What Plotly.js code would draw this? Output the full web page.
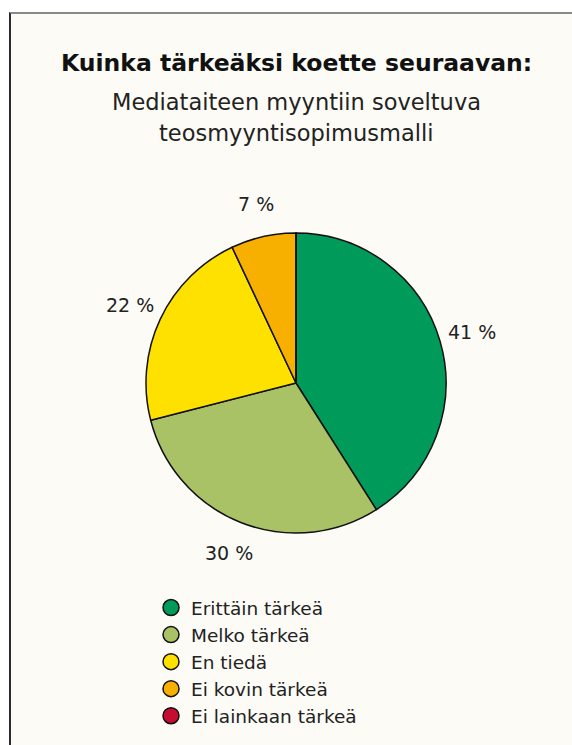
<!DOCTYPE html>
<html>
<head>
<meta charset="utf-8">
<script src="https://cdn.plot.ly/plotly-3.0.1.min.js"></script>
<style>
  html, body { margin:0; padding:0; background:#ffffff; }
  #frame { position:absolute; left:9px; top:12px; width:563px; height:733px; background:#fcfbf6;
           border-top:2px solid #8a8a8a; border-left:2px solid #2a2a2a; box-sizing:border-box; }
  #chart { position:absolute; left:0; top:0; width:572px; height:745px; }
</style>
</head>
<body>
<div id="frame"></div>
<div id="chart"></div>
<script>
const titleBold = "Kuinka tärkeäksi koette seuraavan:";
const titleLine2 = "Mediataiteen myyntiin soveltuva";
const titleLine3 = "teosmyyntisopimusmalli";
const categories = ["Erittäin tärkeä", "Melko tärkeä", "En tiedä", "Ei kovin tärkeä", "Ei lainkaan tärkeä"];
const values = [41, 30, 22, 7, 0];
const colors = ["#009a5b", "#a9c266", "#ffe100", "#f8b000", "#c60c30"];

const W = 572, H = 745;
const cx = 296, cy = 383, r = 150;
const FONT = "'DejaVu Sans', Roboto, sans-serif";

const pie = {
  type: "pie",
  labels: categories,
  values: values,
  textinfo: "none",
  sort: false,
  direction: "clockwise",
  rotation: 0,
  marker: { colors: colors, line: { color: "#111", width: 1.5 } },
  showlegend: false,
  hoverinfo: "label+percent",
  domain: { x: [(cx - r) / W, (cx + r) / W], y: [(H - cy - r) / H, (H - cy + r) / H] }
};

const legendTraces = categories.map((c, i) => ({
  type: "scatter", mode: "markers", x: [null], y: [null], name: c,
  marker: { symbol: "circle", size: 16, color: colors[i], line: { color: "#111", width: 1.5 } },
  showlegend: true, hoverinfo: "skip"
}));

// percentage labels placed outside each slice at its mid-angle (derived from the values)
const total = values.reduce((a, b) => a + b, 0);
const labelR = r * 1.22;
let cum = 0;
const labelAnns = [];
values.forEach(v => {
  const mid = (cum + v / 2) / total * 2 * Math.PI;
  cum += v;
  if (v <= 0) return;
  const px = cx + labelR * Math.sin(mid);
  const py = cy - labelR * Math.cos(mid);
  labelAnns.push({
    text: v + " %", xref: "paper", yref: "paper", x: px / W, y: 1 - py / H,
    xanchor: "center", yanchor: "middle", showarrow: false,
    font: { family: FONT, size: 19, color: "#222" }
  });
});

const layout = {
  width: W, height: H,
  paper_bgcolor: "rgba(0,0,0,0)",
  plot_bgcolor: "rgba(0,0,0,0)",
  margin: { l: 0, r: 0, t: 0, b: 0 },
  xaxis: { visible: false, domain: [0, 0.01] },
  yaxis: { visible: false, domain: [0, 0.01] },
  showlegend: true,
  legend: {
    x: 151 / W, xanchor: "left", y: (H - 589) / H, yanchor: "top",
    bgcolor: "rgba(0,0,0,0)",
    font: { family: FONT, size: 18.5, color: "#222" },
    tracegroupgap: 0
  },
  annotations: [
    { text: "<b>" + titleBold + "</b>", xref: "paper", yref: "paper", x: cx / W, y: 1 - 63 / H,
      xanchor: "center", yanchor: "middle", showarrow: false,
      font: { family: FONT, size: 23.5, color: "#111" } },
    { text: titleLine2, xref: "paper", yref: "paper", x: cx / W, y: 1 - 102 / H,
      xanchor: "center", yanchor: "middle", showarrow: false,
      font: { family: FONT, size: 22.5, color: "#222" } },
    { text: titleLine3, xref: "paper", yref: "paper", x: cx / W, y: 1 - 133 / H,
      xanchor: "center", yanchor: "middle", showarrow: false,
      font: { family: FONT, size: 22.5, color: "#222" } }
  ].concat(labelAnns)
};

Plotly.newPlot("chart", [pie].concat(legendTraces), layout, { displayModeBar: false, staticPlot: true });
</script>
</body>
</html>
